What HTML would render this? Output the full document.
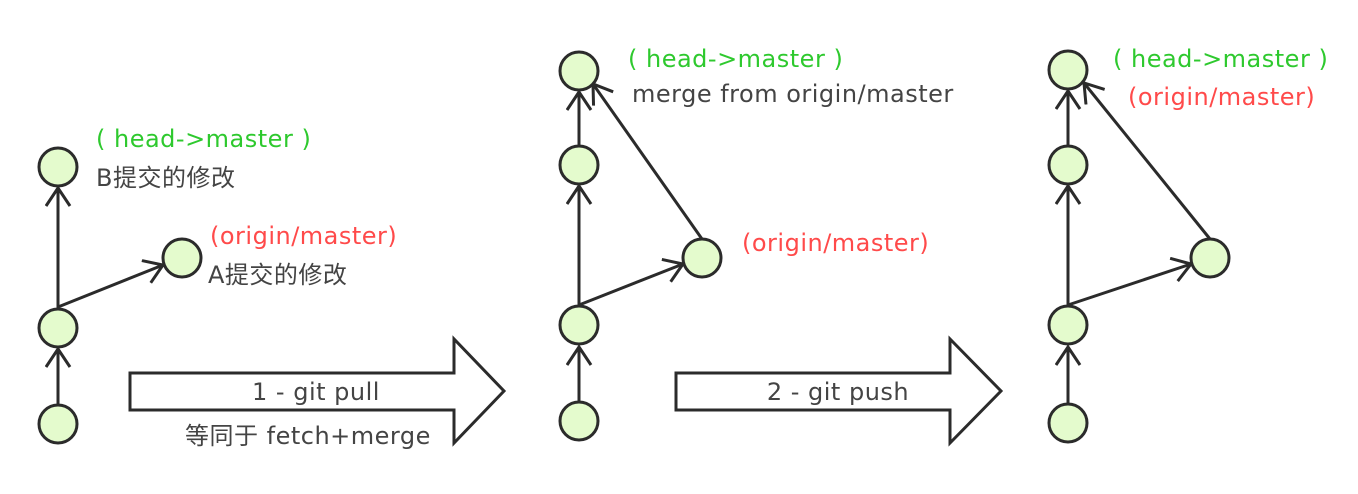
<!DOCTYPE html>
<html><head><meta charset="utf-8"><style>
html,body{margin:0;padding:0;background:#fff;}
svg{display:block;}
text{font-family:"DejaVu Sans","Noto Sans CJK SC",sans-serif;}
</style></head><body>
<svg width="1358" height="494" viewBox="0 0 1358 494" xmlns="http://www.w3.org/2000/svg">
<defs>
<marker id="v" markerWidth="26" markerHeight="30" refX="20" refY="13" orient="auto" markerUnits="userSpaceOnUse">
<path d="M2,1 L20,13 L2,25" fill="none" stroke="#2b2b2b" stroke-width="3"/>
</marker>
</defs>
<g stroke="#2b2b2b" stroke-width="3" fill="none" marker-end="url(#v)">
<line x1="58" y1="405" x2="58" y2="349"/>
<line x1="58" y1="308" x2="58" y2="188"/>
<line x1="58" y1="307" x2="163" y2="265"/>
<line x1="579" y1="403" x2="579" y2="347"/>
<line x1="579" y1="306" x2="579" y2="186"/>
<line x1="579" y1="145" x2="579" y2="92"/>
<line x1="579" y1="305" x2="683" y2="264"/>
<line x1="702" y1="239" x2="593" y2="84"/>
<line x1="1068" y1="404" x2="1068" y2="347"/>
<line x1="1068" y1="306" x2="1068" y2="186"/>
<line x1="1068" y1="145" x2="1068" y2="91"/>
<line x1="1068" y1="305" x2="1191" y2="264"/>
<line x1="1210" y1="239" x2="1084" y2="83"/>
</g>
<g fill="#e4fbcd" stroke="#2b2b2b" stroke-width="3">
<circle cx="58" cy="167" r="19"/><circle cx="58" cy="328" r="19"/><circle cx="58" cy="424" r="19"/><circle cx="182" cy="258" r="19"/>
<circle cx="579" cy="71" r="19"/><circle cx="579" cy="165" r="19"/><circle cx="579" cy="325" r="19"/><circle cx="579" cy="421" r="19"/><circle cx="702" cy="258" r="19"/>
<circle cx="1068" cy="70" r="19"/><circle cx="1068" cy="165" r="19"/><circle cx="1068" cy="325" r="19"/><circle cx="1068" cy="423" r="19"/><circle cx="1210" cy="258" r="19"/>
</g>
<g fill="#fff" stroke="#2b2b2b" stroke-width="3">
<path d="M130,373 L454,373 L454,339 L504,391 L454,443 L454,410 L130,410 Z"/>
<path d="M676,373 L950,373 L950,339 L1001,391 L950,443 L950,410 L676,410 Z"/>
</g>
<g font-size="24" letter-spacing="0.5">
<text x="96" y="147" fill="#2ec92e">( head-&gt;master )</text>
<text x="96" y="186" fill="#444">B提交的修改</text>
<text x="210" y="244" fill="#ff4a4a">(origin/master)</text>
<text x="208" y="283" fill="#444">A提交的修改</text>
<text x="316" y="400" fill="#444" text-anchor="middle">1 - git pull</text>
<text x="185" y="444" fill="#444">等同于 fetch+merge</text>
<text x="628" y="67" fill="#2ec92e">( head-&gt;master )</text>
<text x="632" y="102" fill="#444">merge from origin/master</text>
<text x="742" y="251" fill="#ff4a4a">(origin/master)</text>
<text x="838" y="400" fill="#444" text-anchor="middle">2 - git push</text>
<text x="1113" y="67" fill="#2ec92e">( head-&gt;master )</text>
<text x="1128" y="105" fill="#ff4a4a">(origin/master)</text>
</g>
</svg>
</body></html>
